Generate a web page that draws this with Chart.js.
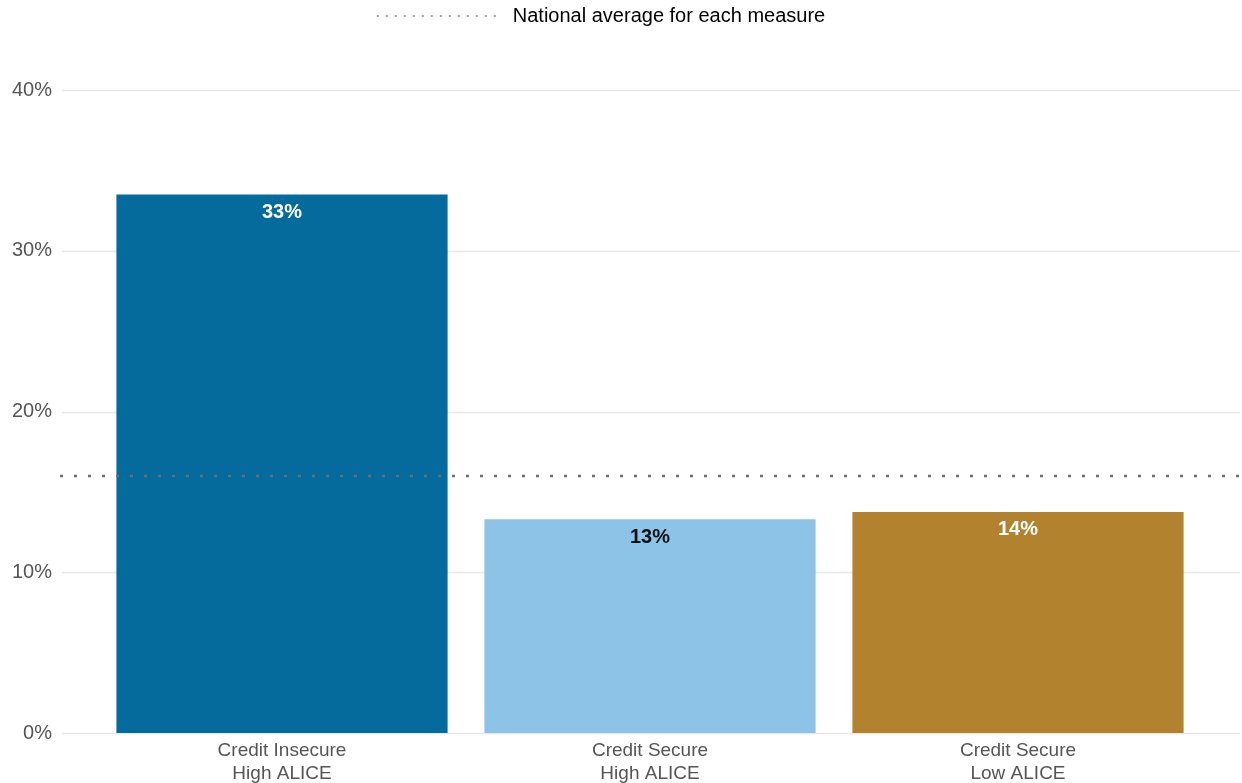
<!DOCTYPE html>
<html>
<head>
<meta charset="utf-8">
<script src="https://cdn.jsdelivr.net/npm/chart.js@4/dist/chart.umd.min.js"></script>
<style>
html,body{margin:0;padding:0;background:#fff;overflow:hidden;}
#wrap{width:1242px;height:783px;position:relative;}
</style>
</head>
<body>
<div id="wrap"><canvas id="c"></canvas></div>
<script>
const categories=[['Credit Insecure','High ALICE'],['Credit Secure','High ALICE'],['Credit Secure','Low ALICE']];
const values=[33.5,13.3,13.75];
const valueLabels=['33%','13%','14%'];
const labelColors=['#ffffff','#111111','#ffffff'];
const barColors=['#046b9c','#8ec3e8','#b3822e'];
const nationalAvg=16;
const yTicks=[0,10,20,30,40];

// full-width grid lines, bar labels and dotted national average
const backdrop={
  id:'backdrop',
  afterInit(chart){
    const lg=chart.legend;
    const f=lg.fit;
    lg.fit=function(){f.call(this);this.height=90;};
  },
  beforeDatasetsDraw(chart){
    const {ctx,scales:{y}}=chart;
    ctx.save();
    ctx.strokeStyle='#e8e8e8';ctx.lineWidth=1.5;
    yTicks.forEach(v=>{
      const py=Math.round(y.getPixelForValue(v))+0.5;
      ctx.beginPath();ctx.moveTo(62,py);ctx.lineTo(1240,py);ctx.stroke();
    });
    ctx.restore();
  },
  afterDatasetsDraw(chart){
    const {ctx,scales:{y}}=chart;
    const meta=chart.getDatasetMeta(0);
    ctx.save();
    ctx.font='bold 20px "Liberation Sans", Arial, sans-serif';
    ctx.textAlign='center';ctx.textBaseline='middle';
    meta.data.forEach((b,i)=>{
      ctx.fillStyle=labelColors[i];
      ctx.fillText(valueLabels[i],b.x,b.y+18);
    });
    const py=Math.round(y.getPixelForValue(nationalAvg));
    ctx.strokeStyle='#6e6e6e';ctx.lineWidth=2.5;ctx.setLineDash([3,11]);
    ctx.beginPath();ctx.moveTo(60,py);ctx.lineTo(1240,py);ctx.stroke();
    ctx.restore();
  }
};

new Chart(document.getElementById('c'),{
  type:'bar',
  data:{
    labels:categories,
    datasets:[{data:values,backgroundColor:barColors,barPercentage:0.9,categoryPercentage:1}]
  },
  options:{
    responsive:true,maintainAspectRatio:false,animation:false,
    layout:{padding:{left:0,right:40,top:0,bottom:0}},
    plugins:{
      tooltip:{enabled:false},
      legend:{
        display:true,position:'top',align:'center',
        labels:{
          usePointStyle:true,pointStyleWidth:126,boxHeight:4,padding:6,
          color:'#222',font:{family:'"Liberation Sans", Arial, sans-serif',size:20},
          generateLabels:()=>[{text:'National average for each measure',strokeStyle:'#a0a0a0',fillStyle:'transparent',lineWidth:2,lineDash:[2,7],pointStyle:'line'}]
        },
        onClick:null
      }
    },
    scales:{
      y:{
        min:0,max:40,
        afterFit(s){s.width=98;s.paddingTop=12;s.paddingBottom=12;},
        border:{display:false},
        grid:{display:false,drawTicks:false},
        ticks:{stepSize:10,padding:46,color:'#555',font:{family:'"Liberation Sans", Arial, sans-serif',size:20},callback:v=>v+'%'}
      },
      x:{
        afterFit(s){s.height=50;},
        border:{display:false},
        grid:{display:false,drawTicks:false},
        ticks:{padding:6,color:'#555',font:{family:'"Liberation Sans", Arial, sans-serif',size:19,lineHeight:1.22}}
      }
    }
  },
  plugins:[backdrop]
});
</script>
</body>
</html>
